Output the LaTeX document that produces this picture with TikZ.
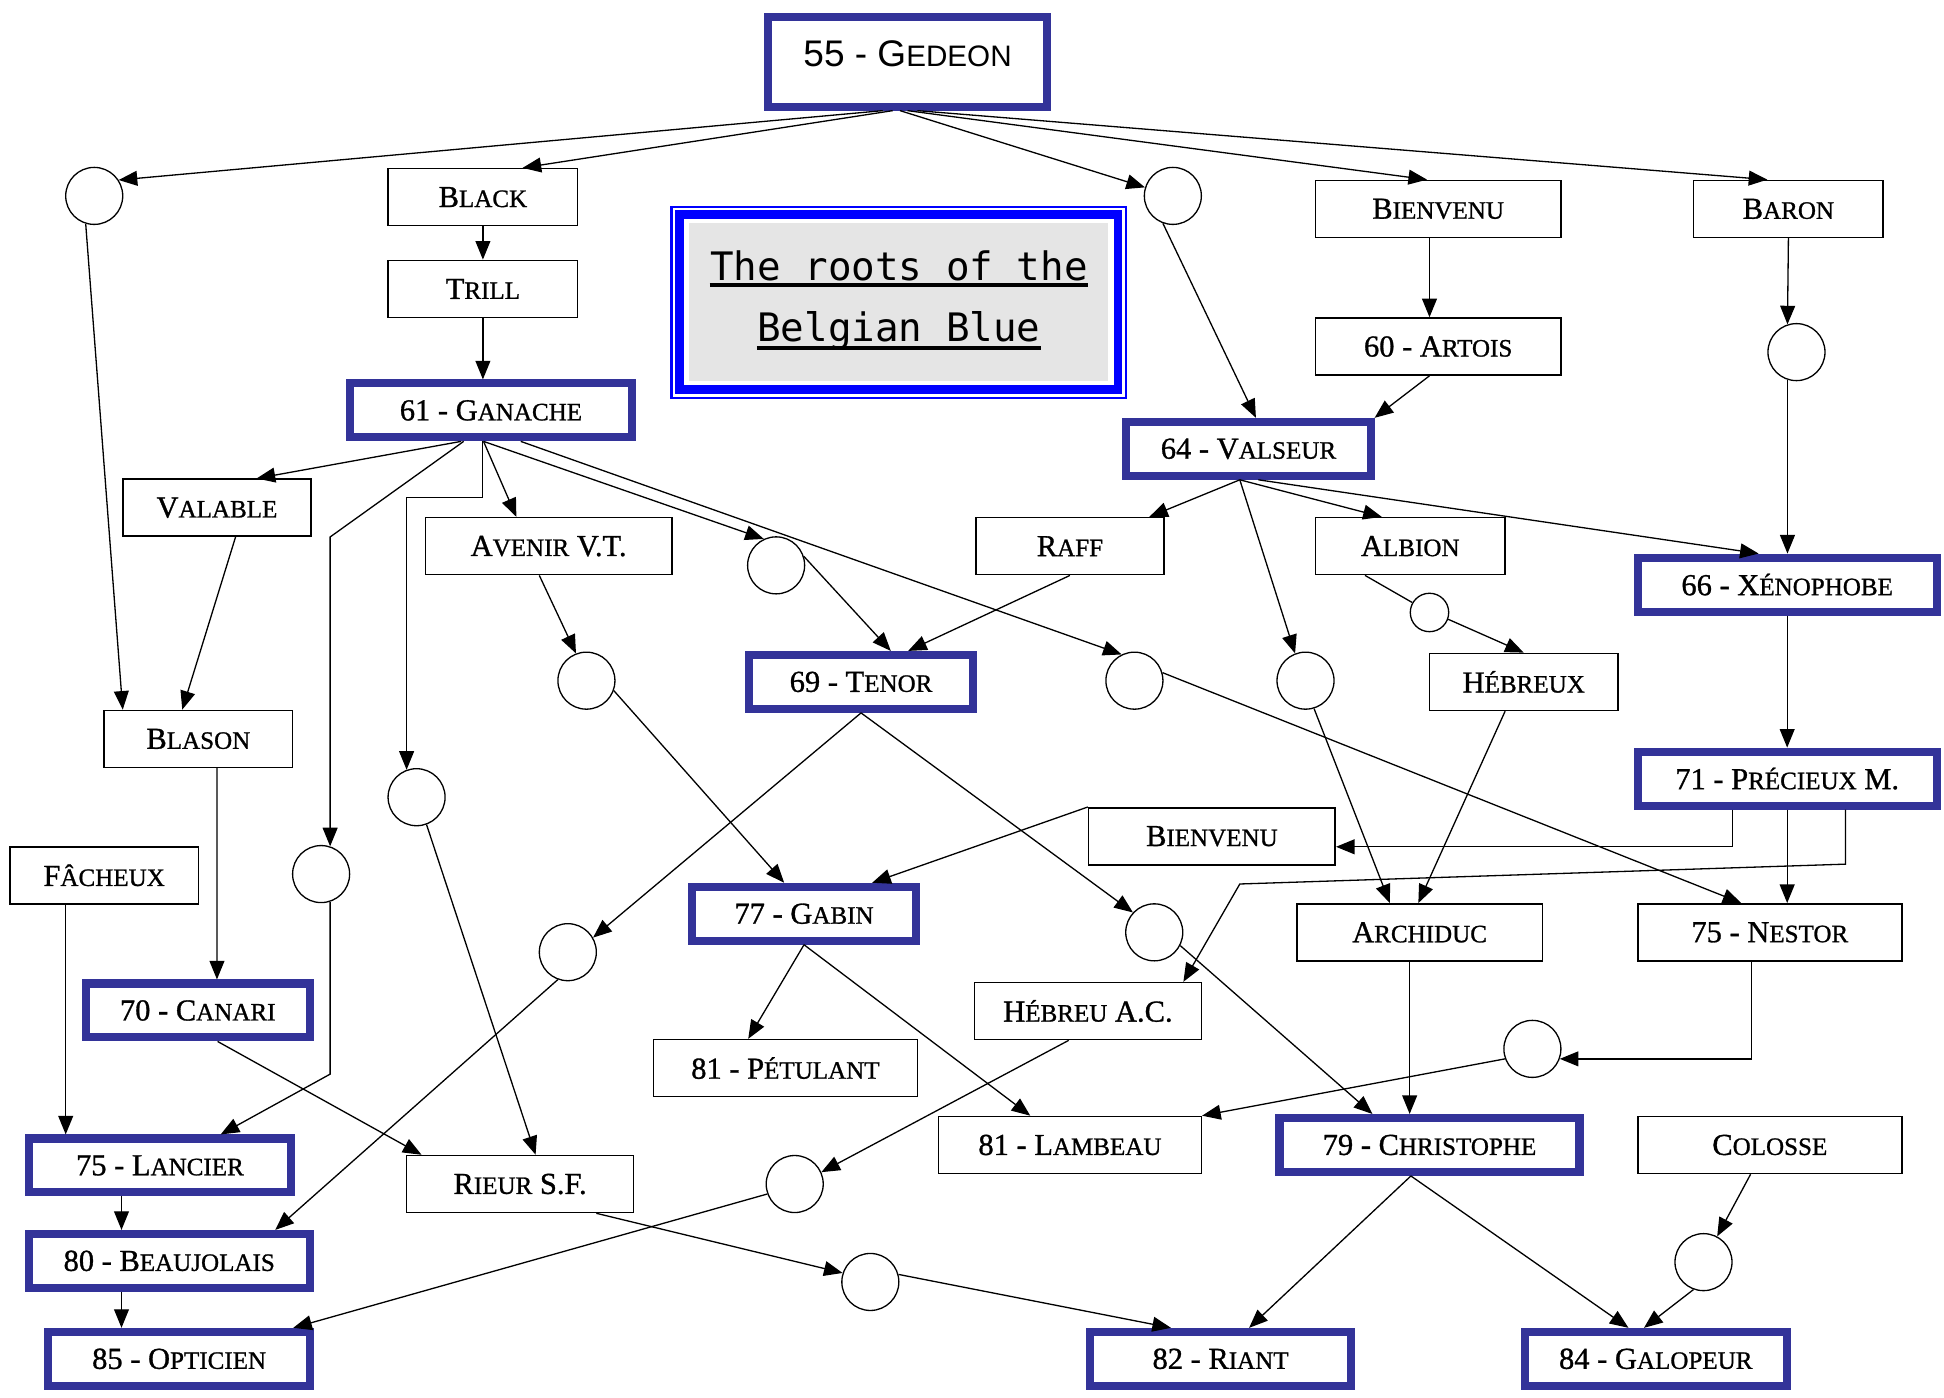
\documentclass[tikz,border=0pt]{standalone}
\usepackage{fontspec}
\newfontfamily\gedeonfont{Liberation Sans}
\newfontfamily\titlefont{DejaVu Sans Mono}
\newfontfamily\boxserif{Liberation Serif}[FakeBold=1]
\usetikzlibrary{arrows.meta,calc}

\definecolor{sireblue}{RGB}{51,51,153}
\definecolor{frameblue}{RGB}{0,0,255}
\definecolor{titlegray}{RGB}{229,229,229}
\newcommand{\boxfont}{\boxserif\fontsize{14}{16}\selectfont}
\newcommand{\smc}[1]{{\fontsize{11.5}{13}\selectfont #1}}

\tikzset{
	sire/.style={draw=sireblue, line width=0.13cm, minimum width=#1, minimum height=0.87cm, inner sep=0pt, font=\boxfont},
	plainbox/.style={draw, line width=0.7pt, minimum width=#1, minimum height=0.92cm, inner sep=0pt, font=\boxfont},
	cross/.style={circle, draw, line width=0.6pt, minimum size=0.92cm, inner sep=0pt},
	descent/.style={->, line width=0.6pt},
	>={Triangle[length=0.3cm,width=0.24cm]}
}

\begin{document}
\begin{tikzpicture}[x=0.02cm, y=-0.02cm]
			%\draw[help lines, step=50] (0,0) grid (1568,1127);
			\useasboundingbox (0,0) rectangle (1568,1127);

			\node[sire=4.5cm, minimum height=1.44cm, text depth=0.28cm, font=\gedeonfont\fontsize{17}{20}\selectfont] (gedeon) at (732,50) {55 - G{\fontsize{13.6}{16}\selectfont EDEON}};

			% title
			\node[fill=titlegray, minimum width=6.76cm, minimum height=2.54cm, inner sep=0pt] (title) at (725,243.5) {};
			\draw[frameblue, line width=1pt] ($(title.north west)+(-14,-13)$) rectangle ($(title.south east)+(14,14)$);
			\draw[frameblue, line width=0.14cm] ($(title.north west)+(-7.5,-6.5)$) rectangle ($(title.south east)+(7.5,7)$);
			\node[anchor=base, inner sep=0pt, font=\titlefont\fontsize{18}{20}\selectfont] (rootsA) at (725,226) {The roots of the};
			\node[anchor=base, inner sep=0pt, font=\titlefont\fontsize{18}{20}\selectfont] (rootsB) at (725,275.5) {Belgian Blue};
			\draw[line width=0.064cm] ($(rootsA.base west)+(0,4)$) -- ($(rootsA.base east)+(0,4)$);
			\draw[line width=0.064cm] ($(rootsB.base west)+(0,5.5)$) -- ($(rootsB.base east)+(0,5.5)$);

			% animals
			\node[plainbox=3.06cm] (black) at (389.5,159) {B\smc{LACK}};
			\node[plainbox=3.06cm] (trill) at (389.5,233) {T\smc{RILL}};
			\node[sire=4.54cm] (ganache) at (396,331) {61 - G\smc{ANACHE}};
			\node[plainbox=3.96cm] (bienvenuA) at (1160,168.5) {B\smc{IENVENU}};
			\node[plainbox=3.06cm] (baron) at (1442.5,168.5) {B\smc{ARON}};
			\node[plainbox=3.96cm] (artois) at (1160,279.5) {60 - A\smc{RTOIS}};
			\node[sire=3.94cm] (valseur) at (1007,362) {64 - V\smc{ALSEUR}};
			\node[plainbox=3.04cm] (valable) at (175,409.5) {V\smc{ALABLE}};
			\node[plainbox=3.98cm] (avenir) at (442.5,440.5) {A\smc{VENIR} V.T.};
			\node[plainbox=3.04cm] (raff) at (863,440.5) {R\smc{AFF}};
			\node[plainbox=3.06cm] (albion) at (1137.5,440.5) {A\smc{LBION}};
			\node[sire=4.82cm] (xenophobe) at (1441.5,471.5) {66 - X\smc{ÉNOPHOBE}};
			\node[sire=3.62cm] (tenor) at (694.5,550) {69 - T\smc{ENOR}};
			\node[plainbox=3.04cm] (hebreux) at (1229,550) {H\smc{ÉBREUX}};
			\node[plainbox=3.04cm] (blason) at (160,596) {B\smc{LASON}};
			\node[sire=4.82cm] (precieux) at (1441.5,628) {71 - P\smc{RÉCIEUX} M.};
			\node[plainbox=3.98cm] (bienvenuB) at (977.5,674.5) {B\smc{IENVENU}};
			\node[plainbox=3.04cm] (facheux) at (84,706) {F\smc{ÂCHEUX}};
			\node[sire=3.62cm] (gabin) at (648.5,737) {77 - G\smc{ABIN}};
			\node[plainbox=3.96cm] (archiduc) at (1145,752) {A\smc{RCHIDUC}};
			\node[plainbox=4.26cm] (nestor) at (1427.5,752) {75 - N\smc{ESTOR}};
			\node[sire=3.62cm] (canari) at (159.5,815) {70 - C\smc{ANARI}};
			\node[plainbox=3.66cm] (hebreuac) at (877.5,815.5) {H\smc{ÉBREU} A.C.};
			\node[plainbox=4.26cm] (petulant) at (633.5,861.5) {81 - P\smc{ÉTULANT}};
			\node[sire=4.24cm] (lancier) at (129,940) {75 - L\smc{ANCIER}};
			\node[plainbox=4.24cm] (lambeau) at (863,923.5) {81 - L\smc{AMBEAU}};
			\node[sire=4.84cm] (christophe) at (1153,923.5) {79 - C\smc{HRISTOPHE}};
			\node[plainbox=4.26cm] (colosse) at (1427.5,923.5) {C\smc{OLOSSE}};
			\node[plainbox=3.66cm] (rieur) at (419.5,955) {R\smc{IEUR} S.F.};
			\node[sire=4.54cm] (beaujolais) at (136.5,1017) {80 - B\smc{EAUJOLAIS}};
			\node[sire=4.22cm] (opticien) at (144.5,1096) {85 - O\smc{PTICIEN}};
			\node[sire=4.22cm] (riant) at (984.5,1096) {82 - R\smc{IANT}};
			\node[sire=4.22cm] (galopeur) at (1335.5,1096) {84 - G\smc{ALOPEUR}};

			% unknown links
			\node[cross] (c1) at (76,158) {};
			\node[cross] (c2) at (946,158) {};
			\node[cross] (c3) at (1449,284) {};
			\node[cross] (c4) at (626,456) {};
			\node[cross, minimum size=0.62cm] (c5) at (1153,494) {};
			\node[cross] (c6) at (473,549) {};
			\node[cross] (c7) at (915,549) {};
			\node[cross] (c8) at (1053,549) {};
			\node[cross] (c9) at (336,643) {};
			\node[cross] (c10) at (259,705) {};
			\node[cross] (c11) at (931,752) {};
			\node[cross] (c12) at (458,768) {};
			\node[cross] (c13) at (1236,846) {};
			\node[cross] (c14) at (641,955) {};
			\node[cross] (c15) at (702,1034) {};
			\node[cross] (c16) at (1374,1018) {};

			% from gedeon
			\draw[descent] ($(gedeon.south)+(-20,0)$) -- (c1.33);
			\draw[descent] ($(gedeon.south)+(-12,0)$) -- ($(black.north)+(32,0)$);
			\draw[descent] ($(gedeon.south)+(-6,0)$) -- (c2.163);
			\draw[descent] (gedeon.south) -- ($(bienvenuA.north)+(-9,0)$);
			\draw[descent] ($(gedeon.south)+(8,0)$) -- ($(baron.north)+(-17,0)$);

			\draw[descent] (black.south) -- (trill.north);
			\draw[descent] (trill.south) -- (trill.south |- ganache.north);
			\draw[descent] (c1.253) -- ($(blason.north)+(-61,0)$);
			\draw[descent] ($(valable.south)+(15,0)$) -- ($(blason.north)+(-13,0)$);
			\draw[descent] ($(blason.south)+(15,0)$) -- ($(canari.north)+(15.5,0)$);
			\draw[descent] ($(facheux.south)+(-31,0)$) -- ($(lancier.north)+(-76,0)$);
			\draw[descent] ($(lancier.south)+(-31,0)$) -- ($(beaujolais.north)+(-38.5,0)$);
			\draw[descent] ($(beaujolais.south)+(-38.5,0)$) -- ($(opticien.north)+(-46.5,0)$);

			% from ganache
			\draw[descent] ($(ganache.south)+(-24,0)$) -- ($(valable.north)+(32,0)$);
			\draw[descent] ($(ganache.south)+(-22,0)$) -- (c10.72 |- valable.south) -- (c10.72);
			\draw[descent] ($(ganache.south)+(-7,0)$) -- ++(0,45) -| (c9.110);
			\draw[descent] ($(ganache.south)+(-6,0)$) -- ($(avenir.north)+(-26,0)$);
			\draw[descent] ($(ganache.south)+(-6,0)$) -- (c4.115);
			\draw[descent] ($(ganache.south)+(24,0)$) -- (c7.116);

			\draw[descent] ($(avenir.south)+(-7.5,0)$) -- (c6.111);
			\draw[descent] (c6.-20) -- ($(gabin.north)+(-16,0)$);
			\draw[descent] (c4.18) -- ($(tenor.north)+(24,0)$);
			\draw[descent] (raff.south) -- ($(tenor.north)+(38,0)$);
			\draw[descent] (tenor.south) -- (c12.30);
			\draw[descent] (tenor.south) -- (c11.137);
			\draw[descent] (c7.16) -- ($(nestor.north)+(-23,0)$);

			% from valseur
			\draw[descent] (c2.250) -- ($(valseur.north)+(6,0)$);
			\draw[descent] ($(bienvenuA.south)+(-7,0)$) -- ($(artois.north)+(-7,0)$);
			\draw[descent] ($(artois.south)+(-7,0)$) -- (valseur.north east);
			\draw[descent] ($(valseur.south)+(-7,0)$) -- ($(raff.north)+(64,0)$);
			\draw[descent] ($(valseur.south)+(-7,0)$) -- (c8.111);
			\draw[descent] ($(valseur.south)+(-7,0)$) -- ($(albion.north)+(-23,0)$);
			\draw[descent] ($(valseur.south)+(8,0)$) -- ($(xenophobe.north)+(-23,0)$);

			\draw[line width=0.6pt] ($(albion.south)+(-36.5,0)$) -- (c5.150);
			\draw[descent] (c5.-20) -- (hebreux.north);
			\draw[descent] (c8.-73) -- ($(archiduc.north)+(-24,0)$);
			\draw[descent] ($(hebreux.south)+(-15,0)$) -- ($(archiduc.north)+(-1,0)$);

			% from baron
			\draw[descent] (baron.south) -- (c3.108);
			\draw[descent] (c3.252) -- (c3.252 |- xenophobe.north);
			\draw[descent] (xenophobe.south) -- (precieux.north);

			% from precieux
			\draw[descent] ($(precieux.south)+(-44,0)$) |- ($(bienvenuB.east)+(0,8.5)$);
			\draw[descent] (precieux.south) -- (precieux.south |- nestor.north);
			\draw[descent] ($(precieux.south)+(47,0)$) -- ++(0,44) -- (1000,713) -- ($(hebreuac.north)+(77,0)$);

			\draw[descent] (bienvenuB.north west) -- ($(gabin.north)+(55,0)$);
			\draw[descent] ($(archiduc.south)+(-8,0)$) -- ($(christophe.north)+(-16,0)$);
			\draw[descent] ($(nestor.south)+(-15,0)$) |- (c13.-20);
			\draw[descent] (c13.200) -- (lambeau.north east);
			\draw[descent] (c11.-27) -- ($(christophe.north)+(-46,0)$);
			\draw[descent] (gabin.south) -- ($(petulant.north)+(-30,0)$);
			\draw[descent] (gabin.south) -- ($(lambeau.north)+(-32,0)$);
			\draw[descent] ($(hebreuac.south)+(-15.5,0)$) -- (c14.24);
			\draw[descent] (c12.250) -- ($(beaujolais.north)+(85.5,0)$);
			\draw[descent] (c9.-70) -- ($(rieur.north)+(12.5,0)$);
			\draw[descent] (c10.-72) -- ++(0,139) -- ($(lancier.north)+(49,0)$);
			\draw[descent] ($(canari.south)+(16,0)$) -- ($(rieur.north)+(-79.5,0)$);
			\draw[descent] (c14.200) -- ($(opticien.north)+(92,0)$);
			\draw[descent] ($(rieur.south)+(61.5,0)$) -- (c15.162);
			\draw[descent] (c15.15) -- ($(riant.north)+(-40,0)$);
			\draw[descent] ($(christophe.south)+(-15,0)$) -- ($(riant.north)+(23,0)$);
			\draw[descent] ($(christophe.south)+(-15,0)$) -- ($(galopeur.north)+(-22,0)$);
			\draw[descent] ($(colosse.south)+(-15.5,0)$) -- (c16.62);
			\draw[descent] (c16.250) -- ($(galopeur.north)+(-9.5,0)$);
		\end{tikzpicture}
\end{document}
